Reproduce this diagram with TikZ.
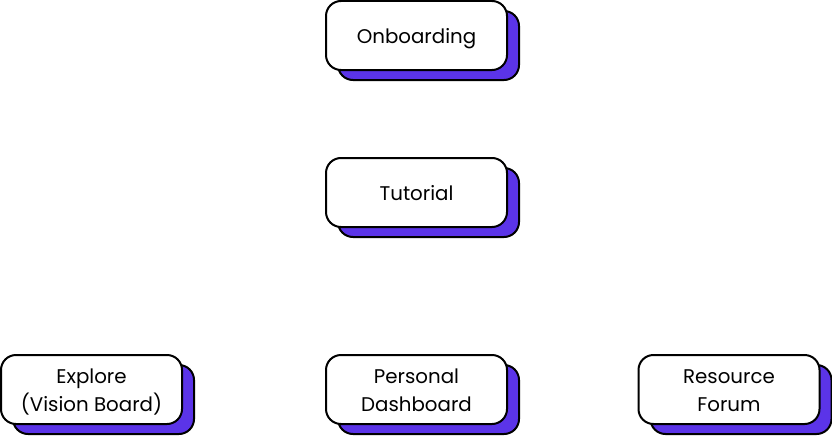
\documentclass[tikz,border=0pt]{standalone}
\usepackage{fontspec}
\setmainfont{Poppins}
\usetikzlibrary{shadows}
\definecolor{shadowpurple}{HTML}{5B34E8}
\tikzset{
  screen/.style={draw=black, line width=2pt, fill=white, rounded corners=15pt,
    minimum width=181pt, minimum height=69pt, align=center,
    font=\fontsize{19.8}{28}\selectfont, text height=22pt, text depth=6pt,
    general shadow={shadow xshift=12pt, shadow yshift=-10pt,
      fill=shadowpurple, draw=black, line width=2pt}},
  twolines/.style={text height=50pt}
}
\begin{document}
\begin{tikzpicture}[x=1pt,y=-1pt]
  \useasboundingbox (0,0) rectangle (832,436);
  \node[screen] (onboarding) at (416.5,35.5) {Onboarding};
  \node[screen] (tutorial) at (416.5,192.5) {Tutorial};
  \node[screen,twolines] (explore) at (91.5,389.5) {Explore\\(Vision Board)};
  \node[screen,twolines] (dashboard) at (416.5,389.5) {Personal\\Dashboard};
  \node[screen,twolines] (forum) at (729,389.5) {Resource\\Forum};
\end{tikzpicture}
\end{document}
